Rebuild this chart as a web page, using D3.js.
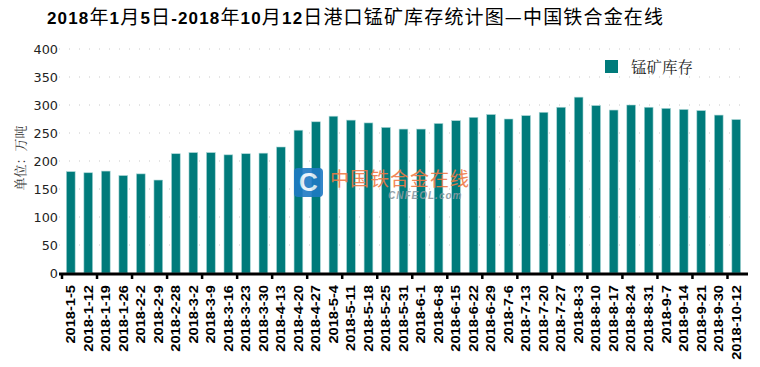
<!DOCTYPE html>
<html>
<head>
<meta charset="utf-8">
<script src="https://cdn.jsdelivr.net/npm/d3@7"></script>
<style>
  body { margin: 0; background: #fff; }
  svg { display: block; }
</style>
</head>
<body>
<div id="chart"></div>
<script>
// categories (weekly dates) and stock values, 10k tonnes
var dates = ["2018-1-5", "2018-1-12", "2018-1-19", "2018-1-26", "2018-2-2", "2018-2-9",
  "2018-2-28", "2018-3-2", "2018-3-9", "2018-3-16", "2018-3-23", "2018-3-30",
  "2018-4-13", "2018-4-20", "2018-4-27", "2018-5-4", "2018-5-11", "2018-5-18",
  "2018-5-25", "2018-5-31", "2018-6-1", "2018-6-8", "2018-6-15", "2018-6-22",
  "2018-6-29", "2018-7-6", "2018-7-13", "2018-7-20", "2018-7-27", "2018-8-3",
  "2018-8-10", "2018-8-17", "2018-8-24", "2018-8-31", "2018-9-7", "2018-9-14",
  "2018-9-21", "2018-9-30", "2018-10-12"];
var stock = [181, 179, 182, 174, 177, 166,
  213, 215, 215, 211, 213, 214,
  225, 255, 270, 280, 273, 268,
  260, 257, 257, 267, 272, 278,
  283, 275, 281, 287, 296, 314,
  299, 291, 300, 296, 294, 292,
  290, 282, 274];
var yTicks = [0, 50, 100, 150, 200, 250, 300, 350, 400];
var seriesName = "锰矿库存";
var title = "2018年1月5日-2018年10月12日港口锰矿库存统计图—中国铁合金在线";

var width = 760, height = 367;
var margin = { left: 62, right: 15, top: 49, bottom: 94 };
var plotW = width - margin.left - margin.right;
var plotH = height - margin.top - margin.bottom;

var svg = d3.select("#chart").append("svg")
  .attr("width", width)
  .attr("height", height);

// title: latin runs bold, CJK runs regular
var titleParts = title.match(/[\x00-\x7f]+|[^\x00-\x7f]+/g);
var titleText = svg.append("text")
  .attr("x", 47)
  .attr("y", 24)
  .attr("textLength", 616)
  .attr("lengthAdjust", "spacing")
  .attr("fill", "#000");
titleText.selectAll("tspan")
  .data(titleParts)
  .enter().append("tspan")
  .attr("font-family", function(d) {
    return /^[\x00-\x7f]/.test(d) ? "'Liberation Sans', Arial, sans-serif" : "'Noto Sans CJK SC', sans-serif";
  })
  .attr("font-weight", function(d) { return /^[\x00-\x7f]/.test(d) ? "bold" : "normal"; })
  .attr("font-size", function(d) { return /^[\x00-\x7f]/.test(d) ? 17 : 19; })
  .text(function(d) { return d; });

var g = svg.append("g")
  .attr("transform", "translate(" + margin.left + "," + margin.top + ")");

var x = d3.scaleBand().domain(dates).range([0, plotW]).paddingInner(0.5).paddingOuter(0.25);
var y = d3.scaleLinear().domain([0, 400]).range([plotH, 0]);

// dotted grid
g.selectAll("line.grid")
  .data(yTicks.slice(1))
  .enter().append("line")
  .attr("class", "grid")
  .attr("x1", -3).attr("x2", plotW)
  .attr("y1", function(d) { return y(d); })
  .attr("y2", function(d) { return y(d); })
  .attr("stroke", "#c8c8c8")
  .attr("stroke-width", 1)
  .attr("stroke-dasharray", "1,9");

// y labels
g.selectAll("text.ylab")
  .data(yTicks)
  .enter().append("text")
  .attr("class", "ylab")
  .attr("x", -4)
  .attr("y", function(d) { return y(d); })
  .attr("dy", "0.36em")
  .attr("text-anchor", "end")
  .attr("font-family", "'DejaVu Sans', Verdana, sans-serif")
  .attr("font-size", 12.8)
  .attr("fill", "#222")
  .text(function(d) { return d; });

// y title
svg.append("text")
  .attr("transform", "translate(25,158) rotate(-90)")
  .attr("text-anchor", "middle")
  .attr("font-family", "'Noto Serif CJK SC', 'Noto Sans CJK SC', serif")
  .attr("font-size", 13)
  .attr("fill", "#333")
  .text("单位：万吨");

// bars
g.selectAll("rect.bar")
  .data(stock)
  .enter().append("rect")
  .attr("class", "bar")
  .attr("x", function(d, i) { return x(dates[i]); })
  .attr("width", x.bandwidth())
  .attr("y", function(d) { return y(d); })
  .attr("height", function(d) { return plotH - y(d); })
  .attr("fill", "#007b7b")
  .attr("stroke", "#a9d6d6")
  .attr("stroke-width", 0.6);

// x axis line + ticks every 2 categories
g.append("line")
  .attr("x1", -3).attr("x2", plotW + 3)
  .attr("y1", plotH + 1).attr("y2", plotH + 1)
  .attr("stroke", "#000")
  .attr("stroke-width", 3);

var step = x.step();
var tickIdx = d3.range(0, dates.length, 2);
g.selectAll("line.xtick")
  .data(tickIdx)
  .enter().append("line")
  .attr("class", "xtick")
  .attr("x1", function(i) { return i * step; })
  .attr("x2", function(i) { return i * step; })
  .attr("y1", plotH).attr("y2", plotH + 6)
  .attr("stroke", "#000")
  .attr("stroke-width", 2.5);

// x labels (stretched along the text like the source render)
g.selectAll("text.xlab")
  .data(dates)
  .enter().append("text")
  .attr("class", "xlab")
  .attr("transform", function(d) {
    return "translate(" + (x(d) + x.bandwidth() / 2) + "," + (plotH + 12) + ") rotate(-90) scale(1.22,1)";
  })
  .attr("dy", "0.36em")
  .attr("text-anchor", "end")
  .attr("font-family", "'Liberation Sans', Arial, sans-serif")
  .attr("font-weight", "bold")
  .attr("font-size", 12)
  .attr("fill", "#000")
  .text(function(d) { return d; });

// legend
svg.append("rect")
  .attr("x", 605).attr("y", 60)
  .attr("width", 13).attr("height", 13)
  .attr("fill", "#007b7b");
svg.append("text")
  .attr("x", 631).attr("y", 73)
  .attr("font-family", "'Noto Serif CJK SC', 'Noto Sans CJK SC', serif")
  .attr("font-size", 15.5)
  .attr("fill", "#222")
  .text(seriesName);

// watermark
var wm = svg.append("g").attr("opacity", 0.9);
wm.append("rect")
  .attr("x", 294).attr("y", 168)
  .attr("width", 29).attr("height", 29)
  .attr("rx", 4)
  .attr("fill", "#1f7ac4");
wm.append("text")
  .attr("x", 308.5).attr("y", 191)
  .attr("text-anchor", "middle")
  .attr("font-family", "'Liberation Sans', sans-serif")
  .attr("font-weight", "bold")
  .attr("font-size", 26)
  .attr("fill", "#e8f2fa")
  .text("C");
wm.append("text")
  .attr("x", 330).attr("y", 186)
  .attr("font-family", "'Noto Sans CJK SC', sans-serif")
  .attr("font-size", 19)
  .attr("letter-spacing", 1)
  .attr("fill", "#ef7a45")
  .text("中国铁合金在线");
wm.append("text")
  .attr("x", 388).attr("y", 199)
  .attr("font-family", "'Liberation Sans', sans-serif")
  .attr("font-weight", "bold")
  .attr("font-style", "italic")
  .attr("font-size", 10)
  .attr("letter-spacing", 1)
  .attr("fill", "#8a9aa2")
  .text("CNFEOL.com");
</script>
</body>
</html>
